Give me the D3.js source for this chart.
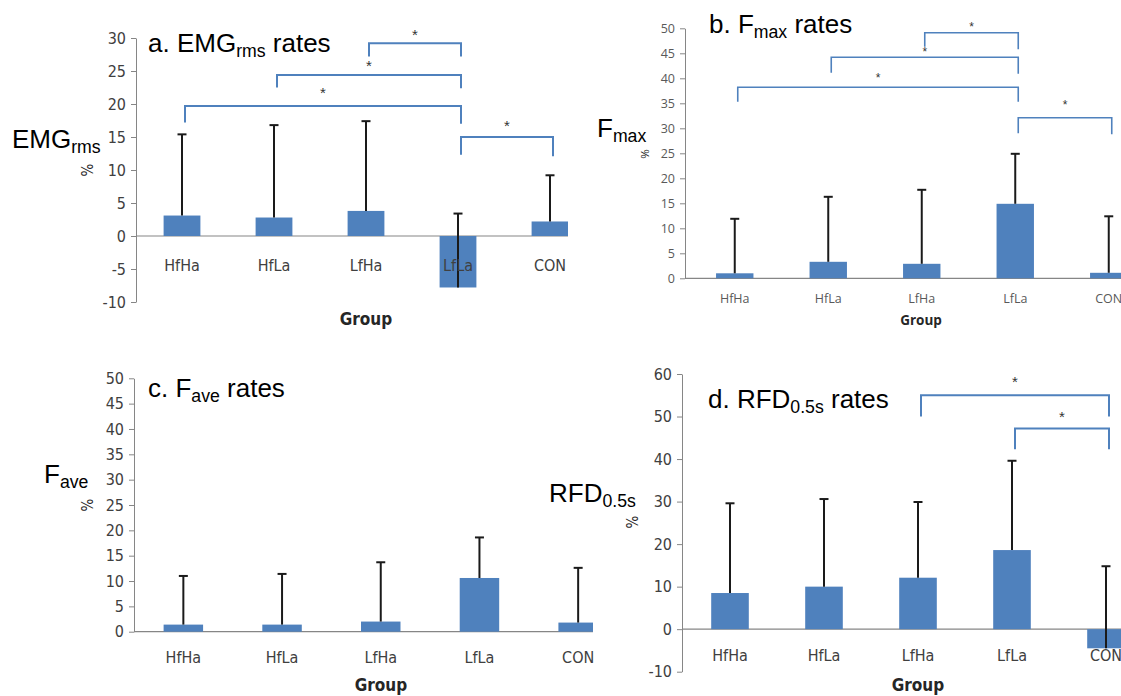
<!DOCTYPE html>
<html>
<head>
<meta charset="utf-8">
<script src="https://cdn.jsdelivr.net/npm/d3@7"></script>
<style>
  body { margin: 0; background: #fff; }
  svg { display: block; }
</style>
</head>
<body>
<div id="chart"></div>
<script>
// categories
const groups = ['HfHa', 'HfLa', 'LfHa', 'LfLa', 'CON']

// a. EMGrms rates (mean change % and + SD)
const emgMean = [3.1, 2.8, 3.8, -7.8, 2.2]
const emgErr = [12.3, 14.0, 13.6, 11.2, 7.0]
const emgTicks = [-10, -5, 0, 5, 10, 15, 20, 25, 30]
const emgSig = [
    { from: 'LfHa', to: 'LfLa', level: 29.2, left: 27.2, right: 27.2, star: 30.9 },
    { from: 'HfLa', to: 'LfLa', level: 24.4, left: 22.5, right: 22.4, star: 26.3 },
    { from: 'HfHa', to: 'LfLa', level: 19.7, left: 17.2, right: 17.0, star: 22.1 },
    { from: 'LfLa', to: 'CON', level: 15.0, left: 12.3, right: 12.1, star: 17.1 }
]

// b. Fmax rates
const fmaxMean = [1.0, 3.3, 2.9, 14.9, 1.1]
const fmaxErr = [10.9, 13.0, 14.8, 10.0, 11.3]
const fmaxTicks = [0, 5, 10, 15, 20, 25, 30, 35, 40, 45, 50]
const fmaxSig = [
    { from: 'LfHa', to: 'LfLa', level: 49.1, left: 46.3, right: 45.8, star: 50.8 },
    { from: 'HfLa', to: 'LfLa', level: 44.2, left: 41.1, right: 40.9, star: 45.7 },
    { from: 'HfHa', to: 'LfLa', level: 38.2, left: 35.3, right: 35.3, star: 40.6 },
    { from: 'LfLa', to: 'CON', level: 32.1, left: 29.0, right: 28.8, star: 35.1 }
]

// c. Fave rates
const faveMean = [1.4, 1.4, 2.0, 10.6, 1.8]
const faveErr = [9.6, 10.0, 11.7, 8.0, 10.8]
const faveTicks = [0, 5, 10, 15, 20, 25, 30, 35, 40, 45, 50]
const faveSig = []

// d. RFD0.5s rates
const rfdMean = [8.5, 10.0, 12.1, 18.6, -4.5]
const rfdErr = [21.1, 20.6, 17.8, 21.0, 19.3]
const rfdTicks = [-10, 0, 10, 20, 30, 40, 50, 60]
const rfdSig = [
    { from: 'LfHa', to: 'CON', level: 55.0, left: 50.0, right: 50.0, star: 58.8 },
    { from: 'LfLa', to: 'CON', level: 47.2, left: 42.3, right: 42.3, star: 50.7 }
]

const width = 1121
const height = 696
const barColor = '#4f81bd'
const sigColor = '#4f81bd'
const axisColor = '#868686'
const narrow = '"Liberation Sans Narrow", "DejaVu Sans Condensed", "Open Sans", sans-serif'
const plain = '"Liberation Sans", Arial, sans-serif'

const svg = d3.select('#chart').append('svg')
    .attr('width', width)
    .attr('height', height)

// panel layouts (pixel positions of each of the four pasted charts)
const panels = [
    {
        id: 'a', mean: emgMean, err: emgErr, ticks: emgTicks, sig: emgSig,
        axisX: 136, x0: 136, band: 92, top: 38, bottom: 302, right: 568,
        labelY: 271, groupX: 366, groupY: 325, tickFont: 16, tickColor: '#404040', font: narrow,
        title: { x: 148, y: 52, parts: ['a. EMG', 'rms', ' rates'] },
        side: { x: 12, y: 148, parts: ['EMG', 'rms'] },
        pct: { x: 88, y: 170 }, starSize: 15, sigWidth: 2
    },
    {
        id: 'b', mean: fmaxMean, err: fmaxErr, ticks: fmaxTicks, sig: fmaxSig,
        axisX: 685, x0: 688, band: 93.5, top: 28.3, bottom: 278.3, right: 1121,
        labelY: 303, groupX: 921, groupY: 325, tickFont: 12.5, tickColor: '#595959', font: '"Open Sans", "Noto Sans", sans-serif',
        title: { x: 709, y: 33, parts: ['b. F', 'max', ' rates'] },
        side: { x: 597, y: 137, parts: ['F', 'max'] },
        pct: { x: 644, y: 154 }, starSize: 12, sigWidth: 1.6
    },
    {
        id: 'c', mean: faveMean, err: faveErr, ticks: faveTicks, sig: faveSig,
        axisX: 134, x0: 134, band: 98.7, top: 378.3, bottom: 631.7, right: 593,
        labelY: 663, groupX: 381, groupY: 691, tickFont: 16, tickColor: '#404040', font: narrow,
        title: { x: 148, y: 397, parts: ['c. F', 'ave', ' rates'] },
        side: { x: 44, y: 483, parts: ['F', 'ave'] },
        pct: { x: 88, y: 505 }, starSize: 15, sigWidth: 2
    },
    {
        id: 'd', mean: rfdMean, err: rfdErr, ticks: rfdTicks, sig: rfdSig,
        axisX: 682, x0: 683, band: 94, top: 374, bottom: 671.7, right: 1121,
        labelY: 661, groupX: 918, groupY: 691, tickFont: 16, tickColor: '#404040', font: narrow,
        title: { x: 708, y: 408, parts: ['d. RFD', '0.5s', ' rates'] },
        side: { x: 549, y: 502, parts: ['RFD', '0.5s'] },
        pct: { x: 633, y: 522 }, starSize: 15, sigWidth: 2
    }
]

// text with a subscript in the middle
function subText(sel, x, y, parts, size) {
    const t = sel.append('text')
        .attr('x', x)
        .attr('y', y)
        .attr('font-family', plain)
        .attr('font-size', size)
        .attr('fill', '#000')
    t.append('tspan').text(parts[0])
    t.append('tspan').attr('font-size', size * 0.68).attr('dy', size * 0.2).text(parts[1])
    if (parts[2]) t.append('tspan').attr('dy', -size * 0.2).text(parts[2])
}

panels.forEach(p => {
    const g = svg.append('g')

    const x = d3.scaleBand()
        .domain(groups)
        .range([p.x0, p.x0 + p.band * groups.length])

    const y = d3.scaleLinear()
        .domain([p.ticks[0], p.ticks[p.ticks.length - 1]])
        .range([p.bottom, p.top])

    const cx = k => x(k) + x.bandwidth() / 2

    svg.append('clipPath').attr('id', 'clip-' + p.id)
        .append('rect')
        .attr('x', 0).attr('y', 0)
        .attr('width', p.right).attr('height', height)

    const plot = g.append('g').attr('clip-path', `url(#clip-${p.id})`)

    // y axis (plain hyphen for negatives, like the original)
    g.append('g')
        .attr('transform', `translate(${p.axisX},0)`)
        .call(d3.axisLeft(y).tickValues(p.ticks).tickFormat(d => String(d))
            .tickSize(5).tickSizeOuter(0).tickPadding(5))
        .call(a => a.select('.domain').attr('stroke', axisColor))
        .call(a => a.selectAll('.tick line').attr('stroke', axisColor))
        .call(a => a.selectAll('.tick text')
            .attr('fill', p.tickColor)
            .attr('font-family', p.font)
            .attr('font-size', p.tickFont))

    // category axis line at zero
    plot.append('line')
        .attr('x1', p.axisX).attr('x2', p.right)
        .attr('y1', y(0)).attr('y2', y(0))
        .attr('stroke', axisColor)
        .attr('stroke-width', 1.2)

    const rows = groups.map((k, i) => ({ k, v: p.mean[i], e: p.err[i] }))
    const bw = p.band * 0.4

    // bars
    plot.selectAll('rect.bar')
        .data(rows)
        .join('rect')
        .attr('class', 'bar')
        .attr('x', d => cx(d.k) - bw / 2)
        .attr('width', bw)
        .attr('y', d => y(Math.max(0, d.v)))
        .attr('height', d => Math.abs(y(d.v) - y(0)))
        .attr('fill', barColor)

    // plus error bars
    const eb = plot.selectAll('g.err')
        .data(rows)
        .join('g')
        .attr('class', 'err')
        .attr('stroke', '#1a1a1a')
        .attr('stroke-width', 2)
    eb.append('line')
        .attr('x1', d => cx(d.k)).attr('x2', d => cx(d.k))
        .attr('y1', d => y(d.v)).attr('y2', d => y(d.v + d.e))
    eb.append('line')
        .attr('x1', d => cx(d.k) - 4.5).attr('x2', d => cx(d.k) + 4.5)
        .attr('y1', d => y(d.v + d.e)).attr('y2', d => y(d.v + d.e))

    // category labels
    g.append('g')
        .attr('transform', `translate(0,${p.labelY})`)
        .call(d3.axisBottom(x).tickSize(0).tickPadding(0))
        .call(a => a.select('.domain').remove())
        .call(a => a.selectAll('.tick text')
            .attr('y', 0).attr('dy', null)
            .attr('fill', p.tickColor)
            .attr('font-family', p.font)
            .attr('font-size', p.tickFont))

    g.append('text')
        .attr('x', p.groupX).attr('y', p.groupY)
        .attr('text-anchor', 'middle')
        .attr('font-family', p.font)
        .attr('font-weight', 'bold')
        .attr('font-size', p.tickFont + 1)
        .attr('fill', '#262626')
        .text('Group')

    g.append('text')
        .attr('transform', `translate(${p.pct.x + 5},${p.pct.y}) rotate(-90)`)
        .attr('text-anchor', 'middle')
        .attr('font-family', p.font)
        .attr('font-size', p.tickFont - 1)
        .attr('fill', '#262626')
        .text('%')

    // significance brackets
    const off = 3
    p.sig.forEach(s => {
        const xa = cx(s.from) + off
        const xb = cx(s.to) + off
        g.append('path')
            .attr('d', `M${xa},${y(s.left)}V${y(s.level)}H${xb}V${y(s.right)}`)
            .attr('fill', 'none')
            .attr('stroke', sigColor)
            .attr('stroke-width', p.sigWidth)
        g.append('text')
            .attr('x', (xa + xb) / 2)
            .attr('y', y(s.star) + p.starSize * 0.55)
            .attr('text-anchor', 'middle')
            .attr('font-family', plain)
            .attr('font-size', p.starSize)
            .attr('fill', '#333')
            .text('*')
    })

    // titles
    subText(g, p.title.x, p.title.y, p.title.parts, 26)
    subText(g, p.side.x, p.side.y, p.side.parts, 26)
})
</script>
</body>
</html>
